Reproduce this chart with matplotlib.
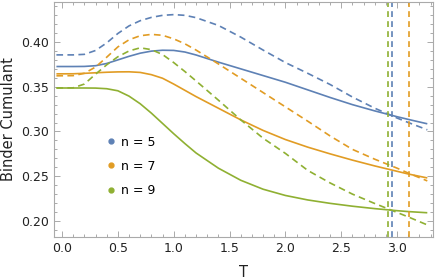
import numpy as np
import matplotlib
matplotlib.use("Agg")
import matplotlib.pyplot as plt
from matplotlib.lines import Line2D
from matplotlib.ticker import MultipleLocator

# temperature grid shared by all curves
T = [-0.05, 0.1, 0.2, 0.3, 0.4, 0.5, 0.6, 0.7, 0.8, 0.9, 1.0, 1.1, 1.2,
     1.4, 1.6, 1.8, 2.0, 2.2, 2.4, 2.6, 2.8, 3.0, 3.1, 3.27]

# solid curves
bc5 = [0.3726, 0.3726, 0.3727, 0.3735, 0.3760, 0.3800, 0.3840, 0.3875, 0.3898, 0.3908, 0.3906, 0.3888, 0.3855,
       0.3775, 0.3700, 0.3625, 0.3550, 0.3465, 0.3380, 0.3300, 0.3230, 0.3165, 0.3135, 0.3086]
bc7 = [0.3644, 0.3645, 0.3650, 0.3656, 0.3662, 0.3666, 0.3667, 0.3660, 0.3635, 0.3595, 0.3530, 0.3460, 0.3390,
       0.3260, 0.3130, 0.3012, 0.2910, 0.2825, 0.2750, 0.2680, 0.2615, 0.2555, 0.2525, 0.2481]
bc9 = [0.3486, 0.3486, 0.3486, 0.3485, 0.3478, 0.3455, 0.3395, 0.3310, 0.3205, 0.3090, 0.2975, 0.2865, 0.2760,
       0.2590, 0.2455, 0.2355, 0.2285, 0.2235, 0.2197, 0.2165, 0.2138, 0.2115, 0.2105, 0.2092]

# dashed curves
bc5_d = [0.3856, 0.3856, 0.3862, 0.3905, 0.3990, 0.4095, 0.4180, 0.4238, 0.4275, 0.4298, 0.4306, 0.4298, 0.4272,
         0.4185, 0.4055, 0.3910, 0.3770, 0.3650, 0.3525, 0.3385, 0.3260, 0.3150, 0.3100, 0.3019]
bc7_d = [0.3622, 0.3624, 0.3650, 0.3720, 0.3830, 0.3945, 0.4025, 0.4070, 0.4085, 0.4075, 0.4035, 0.3980, 0.3910,
         0.3755, 0.3595, 0.3435, 0.3275, 0.3115, 0.2950, 0.2800, 0.2690, 0.2590, 0.2535, 0.2448]
bc9_d = [0.3486, 0.3488, 0.3530, 0.3640, 0.3745, 0.3835, 0.3900, 0.3935, 0.3915, 0.3860, 0.3770, 0.3670, 0.3565,
         0.3350, 0.3130, 0.2925, 0.2755, 0.2565, 0.2425, 0.2300, 0.2195, 0.2095, 0.2045, 0.1956]

# critical temperatures (vertical dashed lines)
Tc = [2.952, 3.110, 2.916]

labels = ["n = 5", "n = 7", "n = 9"]
colors = ["#5E81B5", "#E19C24", "#8FB032"]

fig = plt.figure(figsize=(4.36, 2.8), dpi=100)
ax = fig.add_axes([54/436, 1-237/280, (433-54)/436, (237-2)/280])

solid = [bc5, bc7, bc9]
dashed = [bc5_d, bc7_d, bc9_d]
for i in range(3):
    ax.plot(T, solid[i], color=colors[i], lw=1.2, solid_capstyle="butt")
    ax.plot(T, dashed[i], color=colors[i], lw=1.2, dashes=(4, 2.6))
for i in [2, 0, 1]:
    ax.axvline(Tc[i], color=colors[i], lw=1.2, dashes=(3.5, 2.5))

ax.set_xlim(-0.0716, 3.321)
ax.set_ylim(0.1821, 0.4447)
ax.xaxis.set_major_locator(MultipleLocator(0.5))
ax.xaxis.set_minor_locator(MultipleLocator(0.1))
ax.yaxis.set_major_locator(MultipleLocator(0.05))
ax.yaxis.set_minor_locator(MultipleLocator(0.01))
ax.xaxis.set_major_formatter(matplotlib.ticker.FormatStrFormatter("%.1f"))
ax.yaxis.set_major_formatter(matplotlib.ticker.FormatStrFormatter("%.2f"))

for s in ax.spines.values():
    s.set_color("#aaaaaa")
    s.set_linewidth(0.8)
ax.tick_params(which="both", direction="in", top=True, right=True, color="#aaaaaa",
               labelsize=9, labelcolor="#222222", width=0.7)
ax.tick_params(which="major", length=4)
ax.tick_params(which="minor", length=2)

ax.set_xlabel("T", fontsize=10.5, color="#222222", labelpad=7)
ax.set_ylabel("Binder Cumulant", fontsize=10.5, color="#222222", labelpad=4)

handles = [Line2D([], [], ls="none", marker="o", ms=3.5, color=c) for c in colors]
ax.legend(handles, labels, loc="upper left", bbox_to_anchor=(0.125, 0.458), frameon=False,
          fontsize=9, handlelength=0.6, handletextpad=0.5, labelspacing=0.9, borderpad=0)

fig.savefig("out.png", dpi=100)
